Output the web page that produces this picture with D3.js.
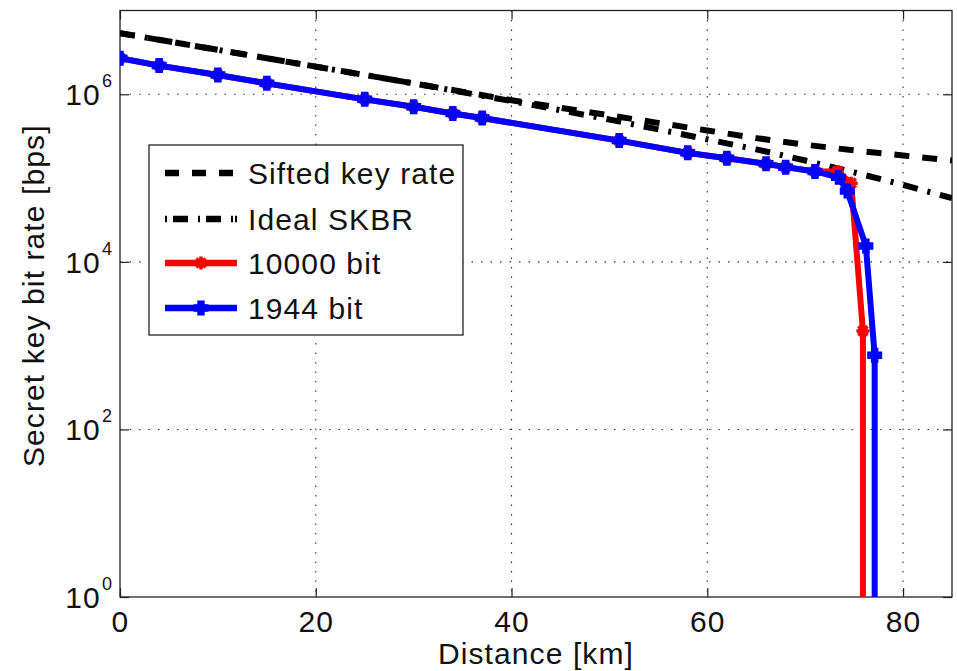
<!DOCTYPE html>
<html>
<head>
<meta charset="utf-8">
<script src="https://cdn.jsdelivr.net/npm/d3@7"></script>
<style>
  body { margin: 0; background: #fff; }
  text { font-family: "Liberation Sans", Arial, Helvetica, sans-serif; fill: #111; letter-spacing: 1.1px; }
</style>
</head>
<body>
<svg id="chart" width="957" height="671"></svg>
<script>
// Reference curves (sampled along distance, km)
const curveDistance = [0, 10, 20, 30, 40, 50, 60, 65, 70, 75, 80, 85];
const siftedKeyRate = [5.37e6, 3.39e6, 2.14e6, 1.35e6, 8.5e5, 5.6e5, 3.7e5, 3.0e5, 2.5e5, 2.14e5, 1.86e5, 1.62e5];
const idealSKBR     = [5.37e6, 3.39e6, 2.14e6, 1.35e6, 8.3e5, 5.0e5, 2.9e5, 2.2e5, 1.62e5, 1.17e5, 8.3e4, 5.75e4];

// Secret key bit rate with 10000-bit blocks
const dist10000 = [0, 4, 10, 15, 25, 30, 34, 37, 51, 58, 62, 66, 68, 71, 73.3, 74.7, 75.9, 75.9];
const rate10000 = [2.7e6, 2.2e6, 1.7e6, 1.35e6, 8.7e5, 7.1e5, 5.9e5, 5.2e5, 2.8e5, 2.0e5, 1.72e5, 1.48e5, 1.35e5, 1.2e5, 1.2e5, 8.7e4, 1.5e3, 0];

// Secret key bit rate with 1944-bit blocks
const dist1944 = [0, 4, 10, 15, 25, 30, 34, 37, 51, 58, 62, 66, 68, 71, 73.4, 74.3, 76.2, 77.1, 77.1];
const rate1944 = [2.7e6, 2.2e6, 1.7e6, 1.35e6, 8.7e5, 7.1e5, 5.9e5, 5.2e5, 2.8e5, 2.0e5, 1.72e5, 1.48e5, 1.35e5, 1.2e5, 1.02e5, 7.0e4, 1.55e4, 770, 0];

const xTicks = [0, 20, 40, 60, 80];
const yTickExponents = [0, 2, 4, 6];
const legendLabels = ["Sifted key rate", "Ideal SKBR", "10000 bit", "1944 bit"];

const svg = d3.select("#chart");
const L = 120, R = 952, T = 10.5, B = 597;

const x = d3.scaleLinear().domain([0, 85]).range([L, R]);
const y = d3.scaleLog().domain([1, 1e7]).range([B, T]);
const yv = v => y(v > 0 ? v : 1e-3);

// clip region for the data
svg.append("clipPath").attr("id", "plotClip")
  .append("rect").attr("x", L).attr("y", T).attr("width", R - L).attr("height", B - T);

// dotted grid
const grid = svg.append("g").attr("stroke", "#333").attr("stroke-width", 1.1)
  .attr("stroke-dasharray", "1.5,8");
grid.selectAll("line.gx").data(xTicks.filter(d => d > 0)).join("line")
  .attr("x1", d => x(d)).attr("x2", d => x(d)).attr("y1", T).attr("y2", B);
grid.selectAll("line.gy").data(yTickExponents.map(e => Math.pow(10, e)).filter(d => d > 1)).join("line")
  .attr("y1", d => y(d)).attr("y2", d => y(d)).attr("x1", L).attr("x2", R);

// axes with inward ticks on all four sides
const tickLen = 9;
const yTickVals = yTickExponents.map(e => Math.pow(10, e));
svg.append("g").attr("transform", `translate(0,${B})`)
  .call(d3.axisBottom(x).tickValues(xTicks).tickSizeInner(-tickLen).tickSizeOuter(0).tickFormat(""));
svg.append("g").attr("transform", `translate(0,${T})`)
  .call(d3.axisTop(x).tickValues(xTicks).tickSizeInner(-tickLen).tickSizeOuter(0).tickFormat(""));
svg.append("g").attr("transform", `translate(${L},0)`)
  .call(d3.axisLeft(y).tickValues(yTickVals).tickSizeInner(-tickLen).tickSizeOuter(0).tickFormat(""));
svg.append("g").attr("transform", `translate(${R},0)`)
  .call(d3.axisRight(y).tickValues(yTickVals).tickSizeInner(-tickLen).tickSizeOuter(0).tickFormat(""));
svg.selectAll(".domain").remove();
svg.selectAll(".tick line").attr("stroke", "#222").attr("stroke-width", 1.2);

// plot box
svg.append("rect").attr("x", L).attr("y", T).attr("width", R - L).attr("height", B - T)
  .attr("fill", "none").attr("stroke", "#222").attr("stroke-width", 1.3);

// tick labels
svg.append("g").selectAll("text").data(xTicks).join("text")
  .attr("x", d => x(d) + 0.5).attr("y", B + 35).attr("text-anchor", "middle")
  .attr("font-size", 30).text(d => d);

const yl = svg.append("g").selectAll("text").data(yTickExponents).join("text")
  .attr("x", L - 7).attr("y", d => y(Math.pow(10, d)) + 11).attr("text-anchor", "end")
  .attr("font-size", 30);
yl.append("tspan").text("10");
yl.append("tspan").attr("font-size", 18).attr("dy", -18).attr("dx", 1).text(d => d);

// axis titles
svg.append("text").attr("x", (L + R) / 2).attr("y", 664).attr("text-anchor", "middle")
  .attr("font-size", 30).text("Distance [km]");
svg.append("text").attr("transform", `translate(44,${(T + B) / 2 - 8}) rotate(-90)`)
  .attr("text-anchor", "middle").attr("font-size", 30).text("Secret key bit rate [bps]");

// series
const line = d3.line().x(d => x(d[0])).y(d => yv(d[1]));
const plot = svg.append("g").attr("clip-path", "url(#plotClip)");

const seriesStyle = [
  { xs: curveDistance, ys: siftedKeyRate, color: "#000", dash: "15,13", marker: null },
  { xs: curveDistance, ys: idealSKBR, color: "#000", dash: "15,10,3,10", marker: null },
  { xs: dist10000, ys: rate10000, color: "#ff0000", dash: null, marker: "star" },
  { xs: dist1944, ys: rate1944, color: "#0000ff", dash: null, marker: "plus" }
];

function drawMarker(g, type, cx, cy, color) {
  if (type === "plus") {
    const h = 7.5;
    g.append("path").attr("d", `M${cx - h},${cy}H${cx + h}M${cx},${cy - h}V${cy + h}`)
      .attr("stroke", color).attr("stroke-width", 7.5).attr("fill", "none");
  } else if (type === "star") {
    const h = 6.5, d = 4.6;
    g.append("path")
      .attr("d", `M${cx - h},${cy}H${cx + h}M${cx},${cy - h}V${cy + h}M${cx - d},${cy - d}L${cx + d},${cy + d}M${cx - d},${cy + d}L${cx + d},${cy - d}`)
      .attr("stroke", color).attr("stroke-width", 3.5).attr("fill", "none");
  }
}

seriesStyle.forEach(s => {
  const pts = s.xs.map((d, i) => [d, s.ys[i]]);
  const p = plot.append("path").datum(pts).attr("d", line)
    .attr("fill", "none").attr("stroke", s.color).attr("stroke-width", 6)
    .attr("stroke-linejoin", "round");
  if (s.dash) p.attr("stroke-dasharray", s.dash).attr("stroke-linecap", "butt");
  if (s.marker) {
    const mg = plot.append("g");
    pts.filter(d => d[1] > 0).forEach(d => drawMarker(mg, s.marker, x(d[0]), y(d[1]), s.color));
  }
});

// legend
const lg = svg.append("g");
lg.append("rect").attr("x", 149).attr("y", 145).attr("width", 314).attr("height", 190)
  .attr("fill", "#fff").attr("stroke", "#222").attr("stroke-width", 1.3);
const rowY = [173, 219, 263, 308];
seriesStyle.forEach((s, i) => {
  const ly = rowY[i];
  const seg = lg.append("line").attr("x1", 165).attr("x2", 237).attr("y1", ly).attr("y2", ly)
    .attr("stroke", s.color).attr("stroke-width", 6.5);
  if (i === 0) seg.attr("stroke-dasharray", "14,13");
  if (i === 1) seg.attr("stroke-dasharray", "2,6,15,10,2,6,15,10,2");
  if (s.marker) drawMarker(lg, s.marker, 201, ly, s.color);
  lg.append("text").attr("x", 248).attr("y", ly + 11).attr("font-size", 30).text(legendLabels[i]);
});
</script>
</body>
</html>
